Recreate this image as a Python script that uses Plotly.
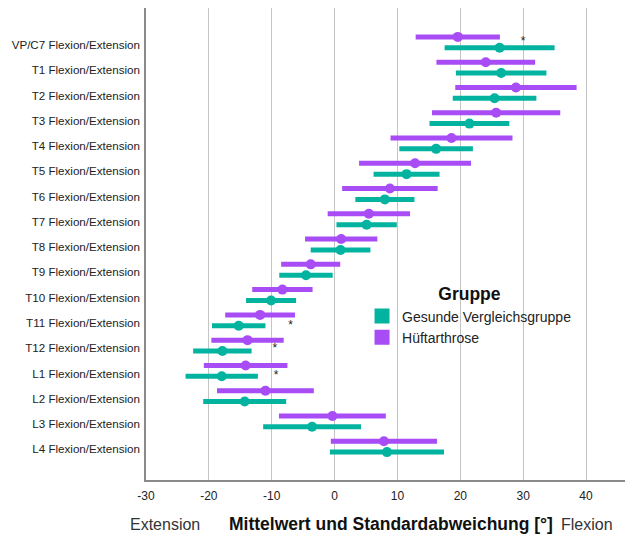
import plotly.graph_objects as go

categories = ["VP/C7 Flexion/Extension", "T1 Flexion/Extension", "T2 Flexion/Extension",
              "T3 Flexion/Extension", "T4 Flexion/Extension", "T5 Flexion/Extension",
              "T6 Flexion/Extension", "T7 Flexion/Extension", "T8 Flexion/Extension",
              "T9 Flexion/Extension", "T10 Flexion/Extension", "T11 Flexion/Extension",
              "T12 Flexion/Extension", "L1 Flexion/Extension", "L2 Flexion/Extension",
              "L3 Flexion/Extension", "L4 Flexion/Extension"]

gesund_mean = [26.25, 26.5, 25.45, 21.45, 16.15, 11.45, 8.0, 5.1, 0.95, -4.55,
               -10.1, -15.25, -17.85, -17.95, -14.3, -3.58, 8.33]
gesund_sd = [8.75, 7.2, 6.65, 6.35, 5.85, 5.25, 4.7, 4.8, 4.75, 4.25,
             3.98, 4.25, 4.65, 5.75, 6.6, 7.78, 9.08]

hueft_mean = [19.6, 24.05, 28.85, 25.7, 18.6, 12.8, 8.8, 5.45, 1.05, -3.8,
              -8.3, -11.85, -13.85, -14.15, -11.0, -0.35, 7.85]
hueft_sd = [6.7, 7.85, 9.65, 10.2, 9.7, 8.9, 7.6, 6.55, 5.75, 4.7,
            4.8, 5.55, 5.75, 6.65, 7.7, 8.5, 8.45]

# significance markers (category index, x value)
star_cat = [0, 11, 12, 13]
star_x = [30.0, -7.0, -9.5, -9.3]

x_ticks = [-30, -20, -10, 0, 10, 20, 30, 40]
x_ticktext = ["-30", "-20", "-10", "0", "10", "20", "30", "40"]

TEAL = "#02B3A0"
PURPLE = "#A84CF5"

n = len(categories)
idx = list(range(n))
off_h = -0.32
off_g = 0.11
star_off = [-0.12, 0.13, 0.02, 0.11]

fig = go.Figure()

fig.add_trace(go.Scatter(
    x=hueft_mean, y=[i + off_h for i in idx], mode="markers",
    marker=dict(color=PURPLE, size=10),
    error_x=dict(type="data", array=hueft_sd, symmetric=True, thickness=5, width=0, color=PURPLE),
    showlegend=False, hoverinfo="skip"))

fig.add_trace(go.Scatter(
    x=gesund_mean, y=[i + off_g for i in idx], mode="markers",
    marker=dict(color=TEAL, size=10),
    error_x=dict(type="data", array=gesund_sd, symmetric=True, thickness=5, width=0, color=TEAL),
    showlegend=False, hoverinfo="skip"))

# legend proxies
fig.add_trace(go.Scatter(x=[None], y=[None], mode="markers", name="Gesunde Vergleichsgruppe",
                         marker=dict(color=TEAL, size=15, symbol="square")))
fig.add_trace(go.Scatter(x=[None], y=[None], mode="markers", name="Hüftarthrose",
                         marker=dict(color=PURPLE, size=15, symbol="square")))

fig.add_trace(go.Scatter(
    x=star_x, y=[star_cat[k] + star_off[k] for k in range(len(star_cat))],
    mode="text", text=["*"] * len(star_x),
    textfont=dict(size=12, color="#222222", family="Liberation Sans, Arial"),
    showlegend=False, hoverinfo="skip"))

fig.update_layout(
    width=625, height=536,
    margin=dict(l=146, r=0, t=8, b=56),
    paper_bgcolor="white", plot_bgcolor="white",
    font=dict(family="Liberation Sans, Arial", size=12, color="#222222"),
    legend=dict(
        title=dict(text="<b>Gruppe</b>", side="top center",
                   font=dict(size=17.5, color="#111111")),
        x=0.451, xanchor="left", y=0.4285, yanchor="top",
        font=dict(size=14, color="#222222"),
        bgcolor="rgba(0,0,0,0)", tracegroupgap=0, itemwidth=30,
    ),
    xaxis=dict(
        range=[-30, 46.2], tickvals=x_ticks, ticktext=x_ticktext, showgrid=True,
        gridcolor="#c4c4c4", gridwidth=1.3,
        showline=True, linecolor="#8a8a8a", linewidth=1.5,
        zeroline=False, ticks="", ticklabelstandoff=4,
        tickfont=dict(size=12, color="#222222"),
    ),
    yaxis=dict(
        range=[17.214, -1.464], tickvals=idx, ticktext=categories,
        showgrid=False, zeroline=False,
        showline=True, linecolor="#8a8a8a", linewidth=1.5,
        ticks="", ticklabelstandoff=2,
        tickfont=dict(size=11.6, color="#222222"),
    ),
    annotations=[
        dict(text="Extension", xref="paper", yref="paper", x=(165 - 146) / 479, y=(480 - 524) / 472,
             xanchor="center", yanchor="middle", showarrow=False,
             font=dict(size=16, color="#333333")),
        dict(text="<b>Mittelwert und Standardabweichung [°]</b>", xref="paper", yref="paper",
             x=(391 - 146) / 479, y=(480 - 524) / 472,
             xanchor="center", yanchor="middle", showarrow=False,
             font=dict(size=17.5, color="#111111")),
        dict(text="Flexion", xref="paper", yref="paper", x=(587 - 146) / 479, y=(480 - 524) / 472,
             xanchor="center", yanchor="middle", showarrow=False,
             font=dict(size=16, color="#333333")),
    ],
)

fig.write_html("out.html")
